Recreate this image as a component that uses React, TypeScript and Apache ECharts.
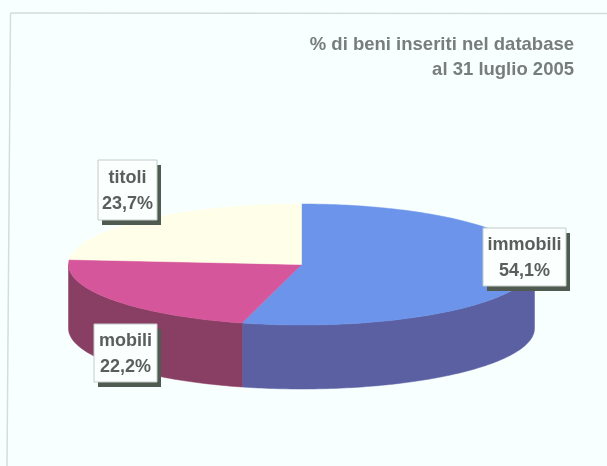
import React, { useEffect, useRef } from "react";
import * as echarts from "echarts";

const categories = ["immobili", "mobili", "titoli"];
const shares = [54.1, 22.2, 23.7];
const shareLabels = ["54,1%", "22,2%", "23,7%"];
const titleLines = ["% di beni inseriti nel database", "al 31 luglio 2005"];

const topColors = ["#6C94EA", "#D6569B", "#FFFFE9"];
const wallColors = ["#5B60A2", "#893F63", "#B8B89A"];
const labelBoxes = [
  { x: 483, y: 228, w: 83, h: 58 },
  { x: 94, y: 324, w: 63, h: 58 },
  { x: 98, y: 160, w: 59, h: 60 },
];

const CX = 301.5;
const CY = 264.5;
const RX = 233;
const RY = 60.5;
const DEPTH = 64;
const BG = "#F8FFFF";
const FONT = '"Liberation Sans", Arial, sans-serif';

const total = shares.reduce((a, b) => a + b, 0);
const px = (deg: number) => CX + RX * Math.sin((deg * Math.PI) / 180);
const py = (deg: number) => CY - RY * Math.cos((deg * Math.PI) / 180);

function renderSlice(params: any, api: any) {
  const i = params.dataIndex;
  const before = shares.slice(0, i).reduce((a, b) => a + b, 0);
  const start = (before / total) * 360;
  const end = start + (api.value(0) / total) * 360;

  const arc: number[][] = [];
  const steps = Math.max(8, Math.ceil(end - start));
  for (let s = 0; s <= steps; s++) {
    const a = start + ((end - start) * s) / steps;
    arc.push([px(a), py(a)]);
  }

  const children: any[] = [];
  // The outer wall is visible only on the front half of the ellipse.
  const wallArc: number[][] = [];
  const from = Math.max(start, 90);
  const to = Math.min(end, 270);
  if (to > from) {
    const n = Math.ceil(to - from);
    for (let s = 0; s <= n; s++) {
      const a = from + ((to - from) * s) / n;
      wallArc.push([px(a), py(a)]);
    }
  }
  if (wallArc.length) {
    const lower = wallArc.map(([x, y]) => [x, y + DEPTH]).reverse();
    children.push({
      type: "polygon",
      shape: { points: [...wallArc, ...lower] },
      style: { fill: wallColors[i], stroke: wallColors[i], lineWidth: 0.5 },
    });
  }
  children.push({
    type: "polygon",
    shape: { points: [[CX, CY], ...arc] },
    style: { fill: topColors[i], stroke: topColors[i], lineWidth: 0.5 },
  });
  return { type: "group", children };
}

function renderLabel(params: any, api: any) {
  const i = params.dataIndex;
  const b = labelBoxes[i];
  return {
    type: "group",
    children: [
      { type: "rect", shape: { x: b.x + 4, y: b.y + 5, width: b.w, height: b.h }, style: { fill: "#4F5A50" } },
      { type: "rect", shape: { x: b.x, y: b.y, width: b.w, height: b.h }, style: { fill: "#FBFFFD", stroke: "#C4CCCC", lineWidth: 1 } },
      {
        type: "text",
        style: {
          x: b.x + b.w / 2,
          y: b.y + b.h / 2 - 13,
          text: categories[i],
          align: "center",
          verticalAlign: "middle",
          fill: "#5A5F5E",
          font: `bold 18px ${FONT}`,
        },
      },
      {
        type: "text",
        style: {
          x: b.x + b.w / 2,
          y: b.y + b.h / 2 + 13,
          text: shareLabels[i],
          align: "center",
          verticalAlign: "middle",
          fill: "#5A5F5E",
          font: `bold 18px ${FONT}`,
        },
      },
    ],
  };
}

export default function App() {
  const ref = useRef<HTMLDivElement>(null);
  useEffect(() => {
    document.body.style.margin = "0";
    document.body.style.background = BG;
    const chart = echarts.init(ref.current!, null, { renderer: "svg" });
    chart.setOption({
      animation: false,
      backgroundColor: BG,
      graphic: [
        { type: "line", shape: { x1: 10.5, y1: 13, x2: 607, y2: 13.5 }, style: { stroke: "#D5DCDC", lineWidth: 1.5 }, z: 0 },
        { type: "line", shape: { x1: 10.5, y1: 13, x2: 7, y2: 466 }, style: { stroke: "#D5DCDC", lineWidth: 1.5 }, z: 0 },
        {
          type: "text",
          z: 5,
          style: {
            x: 574,
            y: 43,
            text: titleLines[0],
            align: "right",
            verticalAlign: "middle",
            fill: "#787C7C",
            font: `bold 18.5px ${FONT}`,
          },
        },
        {
          type: "text",
          z: 5,
          style: {
            x: 574,
            y: 68,
            text: titleLines[1],
            align: "right",
            verticalAlign: "middle",
            fill: "#787C7C",
            font: `bold 18.5px ${FONT}`,
          },
        },
      ],
      series: [
        {
          type: "custom",
          coordinateSystem: "none",
          renderItem: renderSlice,
          data: shares.map((v) => [v]),
          silent: true,
          z: 2,
        },
        {
          type: "custom",
          coordinateSystem: "none",
          renderItem: renderLabel,
          data: shares.map((v) => [v]),
          silent: true,
          z: 3,
        },
      ],
    });
    return () => chart.dispose();
  }, []);
  return <div ref={ref} style={{ width: 607, height: 466, filter: "blur(0.5px)" }} />;
}
